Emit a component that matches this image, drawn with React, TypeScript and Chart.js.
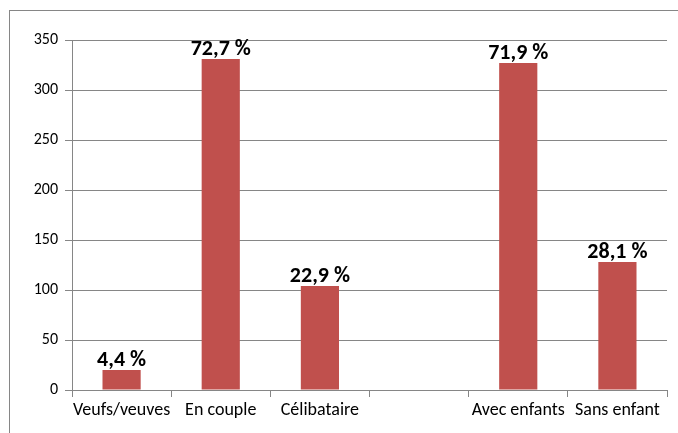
import React, { useEffect, useRef } from "react";
import { Chart, registerables } from "chart.js";

Chart.register(...registerables);

const categories = ["Veufs/veuves", "En couple", "Célibataire", "", "Avec enfants", "Sans enfant"];
const values = [20, 331, 104, 0, 327, 128];
const percentLabels = ["4,4 %", "72,7 %", "22,9 %", "", "71,9 %", "28,1 %"];
const yTicks = [0, 50, 100, 150, 200, 250, 300, 350];

const FONT = 'Carlito, "Liberation Sans Narrow", "Open Sans", sans-serif';
const GRID = "#868686";

const labelPlugin = {
  id: "pctLabels",
  afterDatasetsDraw(chart: any) {
    const ctx = chart.ctx;
    const meta = chart.getDatasetMeta(0);
    ctx.save();
    ctx.font = `bold 22px ${FONT}`;
    ctx.fillStyle = "#000";
    ctx.textAlign = "center";
    ctx.textBaseline = "alphabetic";
    meta.data.forEach((bar: any, i: number) => {
      const t = percentLabels[i];
      if (!t) return;
      ctx.fillText(t, bar.x, bar.y - 4);
    });
    ctx.restore();
  },
};

export default function App() {
  const ref = useRef<HTMLCanvasElement>(null);
  useEffect(() => {
    if (!ref.current) return;
    const chart = new Chart(ref.current, {
      type: "bar",
      data: {
        labels: categories,
        datasets: [
          {
            data: values,
            backgroundColor: "#C0504D",
            barPercentage: 0.385,
            categoryPercentage: 1,
          },
        ],
      },
      options: {
        animation: false,
        responsive: false,
        maintainAspectRatio: false,
        layout: { padding: { left: 0, top: 40, right: 11, bottom: 0 } },
        plugins: { legend: { display: false }, tooltip: { enabled: false } },
        scales: {
          x: {
            grid: {
              display: true,
              drawOnChartArea: false,
              offset: true,
              tickLength: 7,
              color: GRID,
            },
            border: { color: GRID },
            ticks: {
              color: "#000",
              font: { family: FONT, size: 18 },
              padding: 3,
              maxRotation: 0,
              autoSkip: false,
            },
            afterFit(scale: any) {
              scale.height = 43;
            },
          },
          y: {
            min: 0,
            max: 350,
            afterBuildTicks(scale: any) {
              scale.ticks = yTicks.map((v) => ({ value: v }));
            },
            grid: { color: GRID, tickLength: 7 },
            border: { color: GRID },
            ticks: {
              color: "#000",
              font: { family: FONT, size: 16 },
              padding: 7,
            },
            afterFit(scale: any) {
              scale.width = 72;
            },
          },
        },
      },
      plugins: [labelPlugin],
    });
    return () => chart.destroy();
  }, []);
  return (
    <div style={{ position: "fixed", left: 0, top: 0, width: 678, height: 433, overflow: "hidden", background: "#fff" }}>
      <div
        style={{
          position: "absolute",
          left: 9,
          top: 10,
          width: 680,
          height: 440,
          borderLeft: "1px solid " + GRID,
          borderTop: "1px solid " + GRID,
        }}
      />
      <canvas ref={ref} width={678} height={433} style={{ position: "absolute", left: 0, top: 0 }} />
    </div>
  );
}
